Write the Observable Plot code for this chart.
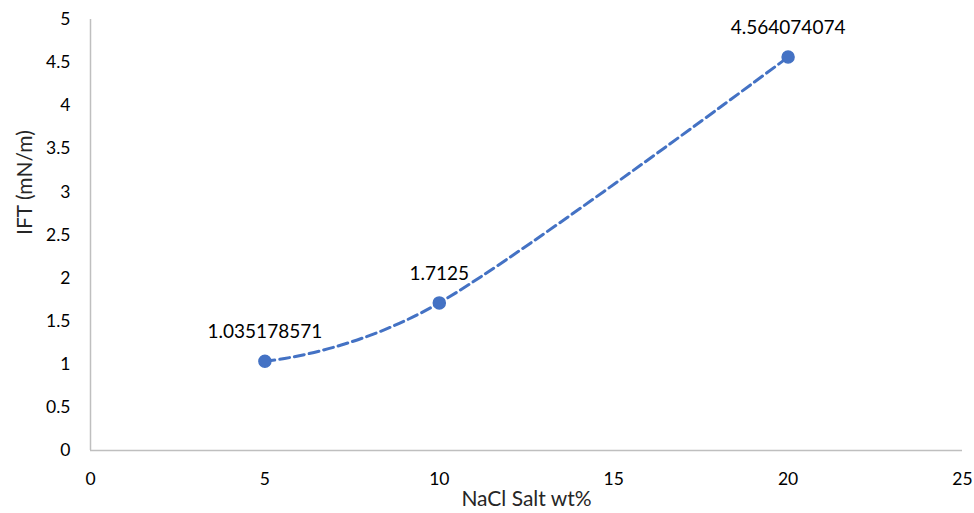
<!DOCTYPE html>
<html><head><meta charset="utf-8">
<script src="https://cdn.jsdelivr.net/npm/d3@7"></script>
<script src="https://cdn.jsdelivr.net/npm/@observablehq/plot@0.6"></script>
<style>body{margin:0;background:#fff;} svg{display:block;}</style>
</head><body><div id="chart"></div>
<script>
const salt = [5, 10, 20];
const ift = [1.035178571, 1.7125, 4.564074074];
const labels = ["1.035178571", "1.7125", "4.564074074"];
const xTicks = [0, 5, 10, 15, 20, 25];
const yTicks = [0, 0.5, 1, 1.5, 2, 2.5, 3, 3.5, 4, 4.5, 5];

const data = salt.map((s, i) => ({x: s, y: ift[i], label: labels[i]}));
const font = "Lato, 'Open Sans', sans-serif";
const blue = "#4472C4";

const chart = Plot.plot({
  width: 974, height: 513,
  marginLeft: 90, marginRight: 12, marginTop: 19, marginBottom: 63,
  style: {fontFamily: font, fontSize: "17.5px", color: "#000", background: "#fff"},
  x: {domain: [0, 25], label: null},
  y: {domain: [0, 5], label: null},
  marks: [
    Plot.ruleX([0], {stroke: "#bfbfbf", strokeWidth: 1.5}),
    Plot.ruleY([0], {stroke: "#bfbfbf", strokeWidth: 1.5}),
    Plot.axisX({ticks: xTicks, tickSize: 0, tickPadding: 22, label: null, fontSize: 17.5, fill: "#000"}),
    Plot.axisY({ticks: yTicks, tickSize: 0, tickPadding: 20, label: null, fontSize: 17.5, fill: "#000", tickFormat: d => String(d)}),
    Plot.line(data, {x: "x", y: "y", stroke: blue, strokeWidth: 3, strokeDasharray: "10,5", curve: "cardinal", tension: 0}),
    Plot.dot(data, {x: "x", y: "y", r: 6, fill: blue, stroke: blue}),
    Plot.text(data, {x: "x", y: "y", text: "label", dy: -29, fontSize: 19, fill: "#000"}),
    Plot.text(["NaCl Salt wt%"], {frameAnchor: "bottom", dy: 55, fontSize: 21, fill: "#262626"}),
    Plot.text(["IFT (mN/m)"], {frameAnchor: "left", dx: -65, rotate: -90, fontSize: 21, fill: "#262626"})
  ]
});
document.getElementById("chart").appendChild(chart);
</script></body></html>
